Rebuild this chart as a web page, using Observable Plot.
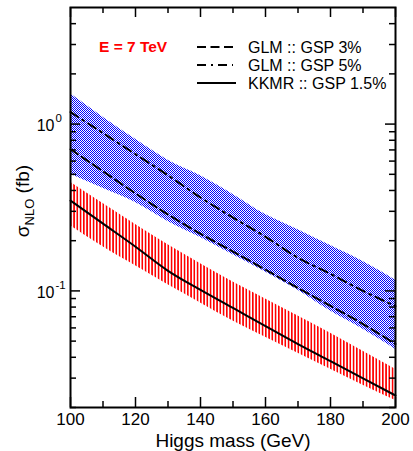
<!DOCTYPE html>
<html>
<head>
<meta charset="utf-8">
<script src="https://cdn.jsdelivr.net/npm/d3@7"></script>
<script src="https://cdn.jsdelivr.net/npm/@observablehq/plot@0.6"></script>
<style>
  html, body { margin: 0; padding: 0; background: white; }
</style>
</head>
<body>
<div id="chart"></div>
<script>
// ---- data ----
const mass = [100, 110, 120, 130, 140, 150, 160, 170, 180, 190, 200];
const glmBandHigh = [1.52, 1.10, 0.81, 0.607, 0.49, 0.379, 0.287, 0.233, 0.187, 0.150, 0.116];
const glmBandLow  = [0.50, 0.412, 0.339, 0.261, 0.209, 0.165, 0.130, 0.101, 0.0758, 0.059, 0.0447];
const glm5  = [1.18, 0.883, 0.66, 0.493, 0.363, 0.275, 0.211, 0.158, 0.1265, 0.10, 0.081];
const glm3  = [0.707, 0.521, 0.384, 0.287, 0.22, 0.172, 0.134, 0.104, 0.0813, 0.0633, 0.048];
const kkmrBandHigh = [0.448, 0.334, 0.25, 0.189, 0.1455, 0.113, 0.0895, 0.0707, 0.0558, 0.0435, 0.0339];
const kkmrBandLow  = [0.246, 0.184, 0.1415, 0.1087, 0.0847, 0.066, 0.0528, 0.0423, 0.0339, 0.0272, 0.022];
const kkmr  = [0.348, 0.253, 0.184, 0.132, 0.1014, 0.079, 0.0615, 0.048, 0.0379, 0.0299, 0.0236];

const xMajor = [100, 120, 140, 160, 180, 200];
const xMinor = [110, 130, 150, 170, 190];
const yMajor = [0.1, 1];
const yMinor = [0.02, 0.03, 0.04, 0.05, 0.06, 0.07, 0.08, 0.09, 0.2, 0.3, 0.4, 0.5, 0.6, 0.7, 0.8, 0.9, 2, 3, 4];
const yLabelValues = [1, 0.1];
const yLabelExps = ["0", "-1"];

const legendLabels = ["GLM :: GSP 3%", "GLM :: GSP 5%", "KKMR :: GSP 1.5%"];
const legendDashes = ["9,4.5", "9,5,2,5", null];
const energyLabel = "E = 7 TeV";

// ---- layout ----
const W = 413, H = 451;
const mL = 70, mR = 18, mT = 7, mB = 44;
const plotW = W - mL - mR, plotH = H - mT - mB;
const majorLen = 10, minorLen = 6;
const font = "'Liberation Sans', Arial, Helvetica, sans-serif";

const rows = mass.map((m, i) => ({
  m, bh: glmBandHigh[i], bl: glmBandLow[i], g5: glm5[i], g3: glm3[i],
  kh: kkmrBandHigh[i], kl: kkmrBandLow[i], k: kkmr[i]
}));

const curve = "monotone-x";

const plot = Plot.plot({
  width: W, height: H,
  marginLeft: mL, marginRight: mR, marginTop: mT, marginBottom: mB,
  style: {fontFamily: font, background: "white", color: "black"},
  x: {domain: [100, 200]},
  y: {type: "log", domain: [0.02, 5], axis: null},
  marks: [
    Plot.areaY(rows, {x: "m", y1: "bl", y2: "bh", fill: "url(#blueCheck)", curve}),
    Plot.areaY(rows, {x: "m", y1: "kl", y2: "kh", fill: "url(#redStripe)", curve}),
    Plot.line(rows, {x: "m", y: "k", stroke: "black", strokeWidth: 2, curve}),
    Plot.line(rows, {x: "m", y: "g3", stroke: "black", strokeWidth: 2, strokeDasharray: legendDashes[0], curve}),
    Plot.line(rows, {x: "m", y: "g5", stroke: "black", strokeWidth: 2, strokeDasharray: legendDashes[1], curve}),
    // ticks (inward) bottom/top
    Plot.tickX(xMajor, {x: d => d, insetTop: plotH - majorLen, stroke: "black", strokeWidth: 1.5}),
    Plot.tickX(xMajor, {x: d => d, insetBottom: plotH - majorLen, stroke: "black", strokeWidth: 1.5}),
    Plot.tickX(xMinor, {x: d => d, insetTop: plotH - minorLen, stroke: "black", strokeWidth: 1.5}),
    Plot.tickX(xMinor, {x: d => d, insetBottom: plotH - minorLen, stroke: "black", strokeWidth: 1.5}),
    // ticks left/right
    Plot.tickY(yMajor, {y: d => d, insetRight: plotW - majorLen, stroke: "black", strokeWidth: 1.5}),
    Plot.tickY(yMajor, {y: d => d, insetLeft: plotW - majorLen, stroke: "black", strokeWidth: 1.5}),
    Plot.tickY(yMinor, {y: d => d, insetRight: plotW - minorLen, stroke: "black", strokeWidth: 1.5}),
    Plot.tickY(yMinor, {y: d => d, insetLeft: plotW - minorLen, stroke: "black", strokeWidth: 1.5}),
    Plot.frame({stroke: "black", strokeWidth: 2}),
    Plot.axisX({ticks: xMajor, tickSize: 0, tickPadding: 5, fontSize: 17, label: null, fill: "black"}),
    Plot.text(yLabelValues, {y: d => d, frameAnchor: "left", text: () => "10", textAnchor: "end",
      dx: -16, dy: 2, fontSize: 16, fill: "black"}),
    Plot.text(yLabelValues, {y: d => d, frameAnchor: "left", text: (d, i) => yLabelExps[i], textAnchor: "start",
      dx: -15, dy: -6, fontSize: 11.5, fill: "black"}),
    Plot.text(["Higgs mass (GeV)"], {frameAnchor: "bottom", dy: 39, lineAnchor: "bottom", fontSize: 19, fill: "black"})
  ]
});

// ---- patterns, y title and legend ----
const svg = d3.select(plot);
const defs = svg.insert("defs", ":first-child");
const blue = defs.append("pattern").attr("id", "blueCheck")
  .attr("patternUnits", "userSpaceOnUse").attr("width", 2).attr("height", 2);
blue.append("rect").attr("width", 2).attr("height", 2).attr("fill", "white");
blue.append("rect").attr("x", 0).attr("y", 0).attr("width", 1).attr("height", 1).attr("fill", "#0000ff");
blue.append("rect").attr("x", 1).attr("y", 1).attr("width", 1).attr("height", 1).attr("fill", "#0000ff");
const red = defs.append("pattern").attr("id", "redStripe")
  .attr("patternUnits", "userSpaceOnUse").attr("x", mL).attr("width", plotW / 100).attr("height", 8);
red.append("rect").attr("x", 0).attr("width", 1.9).attr("height", 8).attr("fill", "#ff0000")
  .attr("shape-rendering", "crispEdges");

// y-axis title
const yt = svg.append("text")
  .attr("transform", `translate(29,${mT + plotH / 2 - 6}) rotate(-90)`)
  .attr("text-anchor", "middle").attr("font-size", 19).attr("fill", "black");
yt.append("tspan").text("σ");
yt.append("tspan").attr("font-size", 13).attr("dy", 5).text("NLO");
yt.append("tspan").attr("dy", -5).text(" (fb)");

// legend
svg.append("text").attr("x", mL + 29).attr("y", mT + 45).attr("text-anchor", "start")
  .attr("font-size", 15.5).attr("font-weight", "bold").attr("fill", "#ff0000").text(energyLabel);
legendLabels.forEach((lab, i) => {
  const y = mT + 40 + i * 18;
  svg.append("line").attr("x1", mL + 127).attr("x2", mL + (i === 2 ? 166 : 163))
    .attr("y1", y).attr("y2", y).attr("stroke", "black").attr("stroke-width", 2)
    .attr("stroke-dasharray", legendDashes[i]);
  svg.append("text").attr("x", mL + 178).attr("y", y + 5.5).attr("text-anchor", "start")
    .attr("font-size", 16).attr("fill", "black").text(lab);
});

document.getElementById("chart").appendChild(plot);
</script>
</body>
</html>
